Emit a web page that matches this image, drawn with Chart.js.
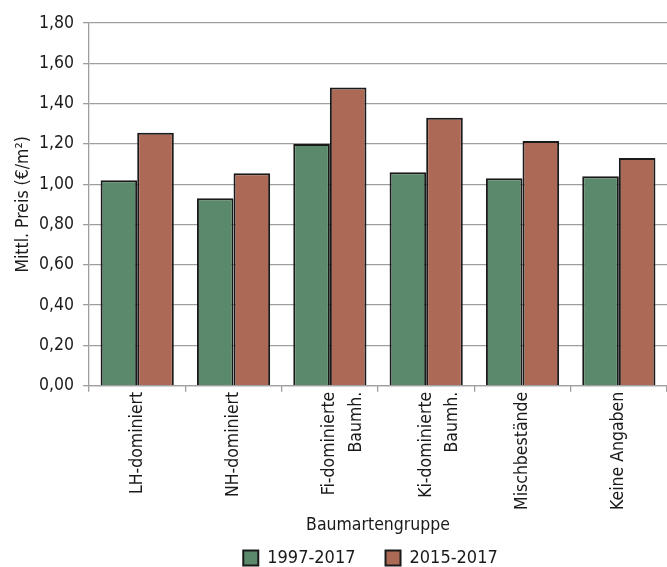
<!DOCTYPE html>
<html>
<head>
<meta charset="utf-8">
<script src="https://cdn.jsdelivr.net/npm/chart.js@4"></script>
<style>
  html, body { margin: 0; padding: 0; background: #ffffff; }
  #wrap { width: 667px; height: 567px; }
</style>
</head>
<body>
<div id="wrap"><canvas id="c" width="667" height="567"></canvas></div>
<script>
// Tree species groups and mean prices (€/m²)
const categories = [
  'LH-dominiert',
  'NH-dominiert',
  ['Fi-dominierte', 'Baumh.'],
  ['Ki-dominierte', 'Baumh.'],
  'Mischbestände',
  'Keine Angaben'
];
const seriesNames = ['1997-2017', '2015-2017'];
const price1997_2017 = [1.02, 0.93, 1.20, 1.06, 1.03, 1.04];
const price2015_2017 = [1.255, 1.055, 1.48, 1.33, 1.215, 1.13];

const FONT = "'DejaVu Sans Condensed', 'Liberation Sans', sans-serif";
const GREEN = '#5b896b';
const RED = '#ac6a56';
const INK = '#1a1a1a';
const GRID = '#9f9f9f';

Chart.defaults.font.family = FONT;
Chart.defaults.color = INK;

// Shift the legend so that it sits centred under the plot rather than the canvas
const legendUnderPlot = {
  id: 'legendUnderPlot',
  afterLayout(chart) {
    if (chart.legend) chart.legend.left = chart.chartArea.left - 15;
  }
};

new Chart(document.getElementById('c'), {
  type: 'bar',
  data: {
    labels: categories,
    datasets: [
      { label: seriesNames[0], data: price1997_2017, backgroundColor: GREEN,
        borderColor: INK, borderWidth: 2, borderSkipped: 'bottom' },
      { label: seriesNames[1], data: price2015_2017, backgroundColor: RED,
        borderColor: INK, borderWidth: 2, borderSkipped: 'bottom' }
    ]
  },
  options: {
    responsive: false,
    animation: false,
    devicePixelRatio: 1,
    layout: { padding: { top: 23, right: 0, left: 7, bottom: -10 } },
    datasets: { bar: { categoryPercentage: 0.76, barPercentage: 1.0 } },
    scales: {
      x: {
        grid: { offset: true, drawOnChartArea: false, color: GRID, lineWidth: 1.3, tickLength: 6 },
        border: { color: GRID, width: 1.3 },
        ticks: { minRotation: 90, maxRotation: 90, autoSkip: false,
                 font: { size: 17.5, lineHeight: 1.5 }, color: INK, padding: 0 },
        title: { display: true, text: 'Baumartengruppe', font: { size: 17.5 },
                 color: INK, padding: { top: 5, bottom: -17 } }
      },
      y: {
        min: 0, max: 1.8,
        grid: { color: GRID, lineWidth: 1.3, tickLength: 6 },
        border: { color: GRID, width: 1.3 },
        ticks: { stepSize: 0.2, font: { size: 17.5 }, color: INK, padding: 9,
                 callback: v => v.toFixed(2).replace('.', ',') },
        title: { display: true, text: 'Mittl. Preis (€/m²)', font: { size: 17.5 },
                 color: INK, padding: { top: 5.7, bottom: -3.7 } }
      }
    },
    plugins: {
      legend: {
        position: 'bottom',
        labels: { font: { size: 18 }, color: INK, boxWidth: 15, boxHeight: 15,
                  padding: 30 }
      },
      tooltip: { enabled: false }
    }
  },
  plugins: [legendUnderPlot]
});
</script>
</body>
</html>
